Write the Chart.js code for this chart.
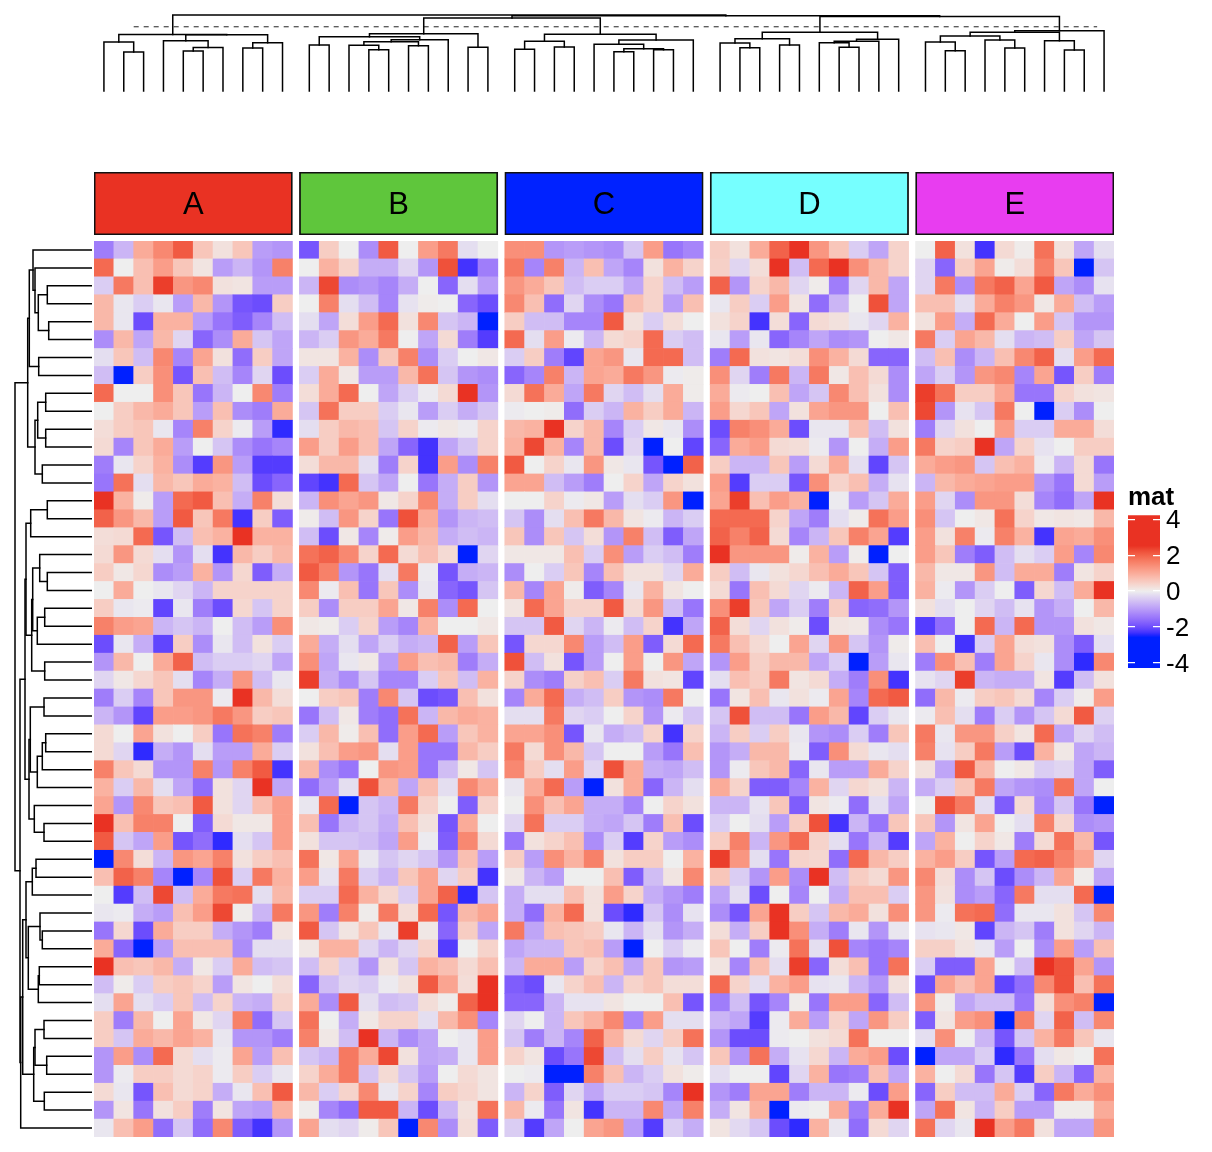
<!DOCTYPE html>
<html>
<head>
<meta charset="utf-8">
<title>mat heatmap</title>
<script src="https://cdn.jsdelivr.net/npm/chart.js@4/dist/chart.umd.min.js"></script>
<style>
  body { margin: 0; background: #fff; }
  canvas { position: absolute; }
</style>
</head>
<body>
<canvas id="topDendro"></canvas>
<canvas id="anno"></canvas>
<canvas id="leftDendro"></canvas>
<canvas id="heat"></canvas>
<canvas id="key"></canvas>
<script>
var blockNames = ['A', 'B', 'C', 'D', 'E'];
var blockColors = ['#e93223', '#5fc63c', '#0022ff', '#76ffff', '#e83df0'];

// values, one array per column slice, rows top to bottom
var blockA = [
[-1.4,-0.7,1,1.5,2.1,0.6,0.2,0.6,-1,-1.1],
[1.9,0,0.7,1.2,0.6,0.15,-1,-0.7,-1.1,1.6],
[-0.4,1.7,0.7,2.4,1.3,1.5,0.2,0.15,-1,-1],
[0.8,-0.1,-0.4,-0.1,-1,0.8,-1.1,-1.9,-2,0.5],
[0.8,-0.1,-2,0.9,0.9,-1,-1.5,-1.8,-1.3,-0.6],
[-1.2,0.8,-0.9,0.8,-0.3,-1.7,-1.2,1,-0.5,-0.9],
[-0.2,0.6,-0.6,1.5,-1.3,1.1,0.2,-1.6,0.5,-0.9],
[-0.6,-2.6,0.5,1.4,-1.9,0.7,-0.6,-1.3,-0.3,-2],
[1.9,0,0,1.4,0.6,-1.5,-0.7,0,1.5,-1.4],
[0,0.5,0.8,1,0.6,-1,0.7,-1.2,-1.4,1],
[0.25,0.5,0.6,-0.1,-1.3,1.6,0.4,-0.05,-1,-2.4],
[0.3,-1.3,0.6,1,-1,0,-0.5,-1.2,-1.5,-1.3],
[-1.4,-0.1,0.4,0.9,-1.2,-2.2,1.3,-1,-2.2,-2.2],
[-1.5,1.8,-0.2,0.8,0.6,1,0.9,-0.6,-2,-1.7],
[2.5,0.9,0.05,-1,1.9,2.1,0.7,-0.8,1.6,0.25],
[2,1.3,0.8,-1,2.1,0.6,1.7,-2.3,0.5,-1.8],
[0.25,0.3,1.9,-1.9,-0.6,0.7,0.9,2.5,0.9,0.9],
[0.3,1.3,0.3,-0.2,-1.1,-0.2,-2.3,0.8,0.5,0.8],
[0.5,0.1,0.35,-1.2,-1,0.9,-1.1,0.35,-1.8,-0.8],
[0,1,0,-0.1,-0.3,-0.7,0.4,0.4,0.4,0.4],
[0.5,-0.1,-0.05,-2.1,-0.1,-1.4,-2,0.35,-0.5,0.4],
[1.6,1.2,1.1,-0.7,-0.5,-0.7,0,-0.6,-1,1.4],
[-2,-0.1,-0.8,-2.1,0.5,-1.2,-0.1,-0.6,0.2,-0.4],
[-1.1,0.8,0,1,2,-0.6,-0.4,-0.4,-0.3,-0.9],
[-0.3,0.1,0.35,0.6,-0.2,-1.3,-0.8,1.3,-0.6,-0.1],
[-1.4,-0.4,-1.3,0.6,1.3,1.3,-0.05,2.5,0.8,0.25],
[-0.7,-1.1,-2.1,1.2,1.2,1.3,1.7,1.3,0.5,0.6],
[0.3,0,1.1,0.2,0,0.5,-1.5,1.8,1.6,-1.4],
[0.3,-0.3,-2.4,-0.8,-1.1,-0.2,-1,-1,1,-0.4],
[1.6,0.6,0.3,-1.1,-1.1,1.6,-1.1,1.6,2.1,-2.3],
[0.9,-0.4,0.8,-0.2,-0.9,-1.6,0.2,-0.3,2.5,-0.9],
[1.1,-1.1,1.5,0.6,0.7,2.1,0.2,-0.3,0.7,1.2],
[2.5,0.7,1.6,1.6,0,-1.8,0.3,0.1,0.1,1.2],
[2.1,-0.5,-0.9,1.2,-1.9,-1.6,-2.4,-0.2,-0.5,1.2],
[-2.7,1.5,0.25,-0.7,1.3,1.1,1.6,0.2,0.5,0.7],
[0.7,2,1.6,-1.3,-2.6,-1.3,2.2,-0.4,1.7,0.9],
[0,-2.2,-0.6,2.3,-0.6,1,1.7,1.8,-0.2,0.8],
[-0.1,-0.05,-0.8,-1,0.7,1.2,2.3,0.05,-0.7,1.7],
[-1.5,0.35,-2,1,0.5,0.5,-0.8,-1.1,-1.4,0.15],
[1,-1.7,-2.7,-1,0.7,0.7,0.7,-1.2,-0.2,-0.2],
[2.5,0.7,0.6,0.8,-0.8,0.1,-0.4,1,-0.6,-0.5],
[-0.6,0.05,-0.4,0.5,0.6,0.4,-1,0.15,0,0.25],
[-0.2,1.1,-0.2,-0.4,0.6,-0.6,0.4,-0.7,-0.8,0.4],
[0.5,-1.4,0.8,0,1.1,0.1,-0.3,1.6,-1.6,-0.5],
[0.5,-0.5,1,0.8,1.1,0.9,-0.1,-1.1,-1.1,-1.4],
[-1.1,1.2,-1.2,1.9,0.3,-0.2,-0.05,1.1,-1,0.7],
[-1.1,-0.05,0.5,0.5,0.3,0.4,-0.05,0.5,-0.4,-0.1],
[0.3,-0.1,-1.9,0.7,0.3,0.4,-0.8,-0.1,0.7,2.1],
[-1.1,0.15,-1.5,0.2,0.5,-1.4,0.15,-0.9,-1,0.9],
[-0.1,0.7,1.2,-1.6,-0.5,-1.6,1.5,-1.8,-2.3,-1.1]
];
var blockB = [
[-1.9,0.5,0,-1.2,2.1,0,1.2,1.7,-0.2,0],
[0,0.9,0.4,-0.8,-0.8,-0.3,-1.1,2.2,-2.3,-1.4],
[-0.7,2.3,-1.2,-1.1,-1.3,-0.8,0,-1.7,-0.2,-1],
[0,1.6,-0.2,-0.6,-1.3,-0.15,0.05,0,-1.7,-2],
[-0.2,-0.9,0.25,1.2,1.9,0.2,1.5,-0.5,-0.7,-2.6],
[-0.7,-0.4,1.3,1,1.7,0,-0.9,0.3,-1.4,-2.2],
[0.15,0.15,0.9,-1.2,0.6,1.6,-1.2,-0.4,0,0.1],
[-0.4,1,0.1,-1,-1,0.8,1.8,-0.5,-1.1,-1.2],
[0.25,1,1.9,0,-0.9,-0.4,-0.05,0.3,2.5,-1.1],
[-0.5,1.8,0.5,0.5,-0.4,-0.1,-1,-0.4,-0.8,-0.5],
[-0.2,0.5,0.8,0.7,-0.5,0.4,-0.05,0.1,-0.05,0.4],
[1.2,0.5,1.2,0.7,-0.9,-1.7,-2.3,-0.9,-0.5,0.4],
[0.25,0.8,0.8,-0.2,-1.4,0.4,-2.3,1.2,-1.2,1.6],
[-2.1,-2.3,1.9,-0.5,-0.9,0,-1.5,-0.8,0.5,-1.1],
[-0.7,1.4,1.1,1.3,0.1,0.4,1.5,-0.8,0.5,-0.2],
[0.05,-0.6,1.3,0.4,-1.5,2.2,1,-1.1,-0.7,-0.6],
[-0.6,-2,0.1,-1.3,0.05,1.2,0.8,-0.8,-0.6,-0.7],
[1.8,2,1.5,0.4,1.9,0.3,0.7,0.3,-2.7,-0.3],
[2.1,1.6,-1.1,-1.5,-0.2,1.7,-0.05,-1.9,-0.8,-0.7],
[1.5,-0.05,0.7,-1.5,0.6,-1.2,-0.1,-1.7,-1.9,-0.5],
[0.5,-1.2,0.5,0.5,1.1,0.1,1.6,-1.2,1.9,0],
[0.1,0.05,-0.4,0.4,-1,-1.3,0.9,0,0,0.1],
[1,-0.8,-0.2,-0.9,-0.4,-0.8,-0.7,2,-1,0.6],
[1.4,-0.9,-0.1,0.1,-1,1.2,0.7,0.8,-1.4,-0.8],
[2.4,-0.8,-1.2,-0.5,-1.3,-1.3,-0.4,0.6,-0.6,0.9],
[0,0.5,0.6,-1.4,1.5,-0.5,-2,-1.9,0.7,0.2],
[-1.5,-0.6,0.1,-1.4,-1.6,1.8,-0.7,0.8,1,0.9],
[-0.4,0.8,0.05,0.7,-1.6,1.2,1.9,-1,0.6,0.9],
[0.2,0.7,1.2,1.3,-0.2,1.2,-1.5,-1.5,0.8,0.5],
[0.8,-1.2,-1.5,0,1.3,1.2,-1.5,-0.6,0.1,-0.5],
[-1.6,-1,-0.2,2.2,0.9,-0.9,0.7,-0.2,1.5,1],
[-0.1,1.9,-2.7,-0.5,-0.7,1.7,0.4,0,-1.8,0.4],
[0.7,-1.5,-0.7,-0.5,-0.8,0.7,0.2,-1.9,1,0],
[0.2,-0.5,-0.5,-0.6,-0.9,1.2,-0.05,-1.8,1.5,0.3],
[1.8,0.1,1.1,-0.1,-0.5,-0.3,-0.5,-1.1,0.7,-1],
[1.2,-0.15,1.7,-0.4,-0.7,0.6,1.1,-0.3,0.5,-2.3],
[-0.4,-0.4,1.9,0.9,0.35,-0.4,1.1,2,-2.4,-0.5],
[1.3,-1.4,1.6,0.05,1.7,0.25,1.9,-1.9,0.8,1.1],
[2.1,-0.5,0.15,0.6,-0.1,2.4,0.1,-1.7,0.5,-0.9],
[0.1,0.9,0.9,-0.3,-0.7,-0.3,0.4,-2.2,0,0.4],
[-0.6,0.4,-0.4,-1.1,0.2,-0.5,0.9,0.7,0.3,0.7],
[-1.7,-0.6,-0.3,-0.4,-0.05,0.2,2.1,1.1,0.25,2.5],
[1,-1.2,2.1,-0.2,-0.6,-0.5,0.25,0.05,2,2.5],
[1.8,0,-0.8,0.1,0.4,0.4,-0.2,0.8,1.4,-1.3],
[1.6,0.1,-0.6,2.5,-0.7,-1.2,-0.9,0,-0.1,1.2],
[-0.5,-0.7,1.7,1,2.3,0.2,-0.9,-0.8,-0.1,1.2],
[0.4,1,1.7,-0.5,0.3,-0.5,-1,0,0.3,0.15],
[0.8,-0.4,0.4,1.5,-0.1,0.4,-1.3,0.5,0.35,0.15],
[0.05,-1.3,-1.6,2.1,2.1,-0.7,-2,-0.7,0.2,1.8],
[1.1,-0.2,-0.3,0.05,0.6,-2.5,1.5,-1.2,0.25,-1.8]
];
var blockC = [
[1.4,1.4,-1.1,-1,-1.1,-1.2,-0.5,1.2,-1.5,-1.3],
[1.7,-1.3,1.6,-0.7,0.7,-0.9,-1.3,0.2,0.9,0.4],
[1.3,1,0.6,-0.6,-0.4,-0.4,-0.9,0.4,-0.6,-1],
[1.5,0.7,-1.6,-0.3,-1.2,-1.5,0.7,0.4,-1,0.7],
[0.5,-0.6,-0.6,-1.3,-1.3,2.1,0.2,-0.4,0.25,0],
[1.9,-0.2,1.2,-0.05,-0.7,0.3,0.4,1.9,-0.4,-0.6],
[-0.4,0.5,-1.4,-2.1,1.1,1.3,-0.1,1.9,1.9,-0.6],
[-1.7,-1.3,1.6,-0.7,1.1,1,1.7,1.3,-0.05,0.05],
[0.3,1.8,1,-0.9,1.7,-0.3,-0.6,-0.2,1,0.05],
[-0.05,0,0.05,-1.6,-0.4,-0.7,0.9,0.5,1,-0.7],
[0.8,0.9,2.5,0.4,0.8,-1.3,-0.4,0.1,-0.1,-1.2],
[0.9,2.3,0.9,-1.3,0.8,-2,-0.3,-2.5,0,-2.1],
[2.1,0,0.4,-0.1,1.3,0.1,-0.1,-1.9,-2.6,2],
[1.1,1.1,-0.6,-1,-1.4,0,0.4,-0.9,0.4,0.2],
[0,0,0.4,-0.05,0.1,-1,-0.2,-0.4,1.3,-2.5],
[-0.5,-1.2,-0.2,0.7,1.7,0.8,0.15,-0.05,-0.7,-0.4],
[0.6,-1.2,0.6,-0.5,0.25,-1.1,1.6,-0.6,-1.8,-0.9],
[0.1,0.1,0.1,0.7,-0.4,1.4,-1,-0.4,-0.6,-1.4],
[-1.2,0,-0.4,0.6,-1.3,0.7,0.2,0.2,-0.3,1],
[0.8,-1.3,1.1,0.05,-1.8,-1.3,-0.1,0.9,0.15,0],
[0.15,1.9,1.1,0.4,0.4,2.1,0.3,1.3,-0.6,-1.5],
[-0.5,-0.5,2.1,-0.3,-0.7,-0.05,-0.6,0.4,-2.3,-0.9],
[-1.9,0.35,0.35,1.5,-1,-0.6,1.2,-1.8,0.3,1.9],
[2.2,-0.6,0.2,-1.9,-1,0,1.2,0,1.3,-0.9],
[0.4,-1.2,-1.4,0.45,0.7,-0.4,1.7,0.2,0.15,-2.1],
[-1.3,1,1.9,-0.8,-0.6,0.5,-1.1,-1.2,1.7,0],
[-0.2,-0.2,1.7,-0.3,-0.4,0,0.4,-1.1,-0.05,-0.5],
[1.1,1.1,1.4,-1.9,-0.1,-0.8,-0.6,0.4,-2.3,0.4],
[1.7,0.3,1.4,0.8,-0.5,0,0,-1,-1.5,0.7],
[1.5,0.5,-0.2,1.2,-0.3,2.2,1,-0.8,-0.9,-0.6],
[-0.1,1,1.9,-1,-2.5,0.2,1,-1.7,-0.7,-0.2],
[0,1.4,0.7,1.1,-0.8,-0.8,-1.3,0,0.4,0.2],
[-0.3,1.8,-0.4,-0.4,-0.8,-0.9,-0.5,-1.4,0.7,-2],
[-1.5,0.2,0.4,0.7,-1.2,-0.4,-2.2,0.4,-1,-1.2],
[0.5,-1,1.4,0.9,1.6,0.2,0.5,0.5,0,0.9],
[0.1,-0.7,-1,0,0,0.7,-1.8,-0.6,0.15,1.5],
[-0.8,-0.2,-0.2,0.7,0.2,1.2,0.4,-0.8,-1.1,-1.4],
[-0.8,-1.6,0.9,1.9,0.2,-2,-2.4,-0.5,-1.2,-0.15],
[1.7,-0.9,0.7,0.6,0.5,-0.1,-0.7,-0.2,-1.1,-0.8],
[-0.9,-0.7,-0.7,0.6,0.7,-1,-2.7,0,-0.4,-0.05],
[-0.7,1,1,-1,0.4,0.7,-0.9,0.6,-1.1,-1],
[-1.8,-2,-0.1,0.4,0.7,-0.7,0.4,0.6,0.25,0.25],
[-1.7,-1.7,-0.7,-0.15,-0.15,0.15,0,0,0.7,-1.9],
[-0.3,0,-0.7,0.6,0.9,1.5,-1.3,1.2,-0.2,-0.2],
[-0.5,-1.4,-0.7,-1.3,2,0.9,0.3,-0.3,0.5,1.8],
[0.4,0.15,-2,-1.5,2.3,-0.6,-0.2,0.5,-0.15,-0.5],
[0,-0.05,-2.7,-2.7,1.6,0.7,-0.7,-0.4,0.2,0.05],
[-0.7,0.4,-1.8,-0.3,-0.9,-0.4,-0.4,-0.5,-1.3,2.5],
[0.8,-0.05,-1.5,0.15,-2.3,-0.7,-0.7,1.5,-0.9,1.6],
[-0.4,-2.2,-0.9,0,1.1,1.3,-1,-2.2,-0.4,-0.8]
];
var blockD = [
[0.5,0.2,1,2,2.5,1.3,0.6,-0.4,-0.9,0.4],
[0.45,-0.3,0.25,2.5,-0.6,1.9,2.5,1.4,0.8,0.4],
[2,-1.1,0.4,0.8,-0.3,0.05,-1.4,-0.3,0.8,-0.9],
[-0.1,0.5,-0.4,1.2,0.15,-1.6,-0.7,0,2.2,-0.9],
[0.2,0.4,-2.3,0.25,-1.7,0.3,0.2,-0.1,-0.3,0.9],
[-0.1,-1,-0.1,-1.7,-1.3,-0.9,-1.2,-1.1,0,0.1],
[-1.4,1.9,0.2,0.15,0.25,1.4,0.9,0.3,-1.7,-1.7],
[1.4,-0.3,-1.4,1.7,-0.7,1.7,0.1,0.7,0.3,-1.2],
[1,-0.05,0,0.7,-0.9,-0.5,1.5,0.7,0.2,-1.2],
[1.2,0.35,0.6,-0.9,0.2,1.1,1.3,1.3,0,0.7],
[-2,1.6,1.4,1,-2,-0.1,-0.1,0.7,-0.6,0.2],
[-1.7,1,1.2,0.3,0.25,-0.05,-1.1,0,-0.8,1.2],
[0.5,-0.7,-0.7,0.6,-1,0.3,1,-0.2,-2.1,-0.5],
[1.2,-2.2,-0.4,-0.4,-1.9,1.4,0.4,0.7,-0.8,-0.15],
[1.1,2.4,0.7,1.2,0.9,-2.7,-0.05,-1,-0.5,1],
[1.9,1.9,1.9,0.4,-0.9,-1.4,-0.2,0.05,1.8,1.2],
[2,1.6,2,0.3,-1.3,-0.7,0.6,1.6,1.1,-2.2],
[2.5,1.3,1.3,1.3,0.05,0.9,-1,0.05,-2.7,0],
[0.5,-0.6,-0.1,0.2,0.35,0.7,1,0.6,-0.5,-1.8],
[0.3,-1.5,0.7,0.3,-0.3,-0.05,-0.7,2,1.2,-1.8],
[1.4,2.4,0.6,-0.9,-0.4,-1.4,0.5,-1.7,-1.6,-1.1],
[2,0.25,-0.3,0.2,0.05,-2,0.15,0.1,-1.2,-1.5],
[1.7,0.7,0.3,0,1.1,-0.3,1.3,-0.5,-1.1,0.05],
[-1.1,1.2,0.45,0.8,0.8,-0.9,-0.4,-2.7,-1,-0.1],
[-0.2,0.7,0.5,1.7,0.15,0.3,-0.8,-1.4,1.4,-2.3],
[-1.5,0.15,0.7,-0.1,0.2,-0.05,1.1,-1.3,1.9,2.1],
[-0.5,2.2,-0.6,-0.6,-1.5,1.2,0.8,-2.1,-0.4,-0.1],
[-0.7,0.5,-0.4,0.5,-0.1,-1.1,-1.2,-0.4,-1.4,0.6],
[-1.1,-0.8,0.8,0.8,-0.05,-1.8,1.4,0.3,-0.1,-0.2],
[-1.1,-0.05,0.6,0.8,-1.7,-0.1,-1,-1,1,0.4],
[1,0.4,-1.8,-1.8,-1.3,0.9,-0.3,0.35,0.2,-0.7],
[-0.7,-0.7,-0.15,0.6,-1.8,0.15,-0.05,-1.6,-0.2,-0.9],
[-0.4,0,-0.2,-1,0.5,2.2,-2.3,-0.7,-1.5,0.6],
[0.5,1.6,-0.7,1.3,1.9,0.4,-0.2,-1.5,-0.7,-2.2],
[2.4,1.3,-0.2,-1.5,0.4,0.35,-1.6,1.9,0.8,0.5],
[0.6,-0.4,-1.1,1.2,-1.2,2.5,-0.6,0.5,0.3,1.3],
[-0.9,-0.2,-2,0,-1.3,0,-0.8,0.7,0.7,-0.4],
[-1.2,-1.9,1.1,2.5,0.5,-0.5,0.8,1,0.2,1.4],
[0.25,-0.8,0.5,2.5,1.4,-0.8,-1.4,-0.1,-1.1,-0.1],
[0.6,0,-1.4,-0.05,1.8,-0.2,2.2,-1.3,-1.5,-1.3],
[0.15,-1.3,0.7,-0.2,2.4,-1.7,0.25,0.7,-1.5,1.8],
[1.9,0.4,-0.2,0.9,1.2,-0.15,-0.1,-0.7,-1.1,0.2],
[-1.4,-0.6,-1.9,-1.3,0.05,-1.5,1.2,1.2,-1.7,-0.6],
[-0.7,-0.9,-2.2,-0.05,1,-1,0.4,-0.9,1.3,0.5],
[-1.1,-2,-2,-0.05,0,0.2,0.3,1.8,0,0],
[0.6,-1.1,1.8,-0.8,-0.15,0.35,-0.7,1,1.2,-2],
[-0.2,0,0,-2.1,-0.3,0.9,-1.5,-1.4,0.7,-0.9],
[-1.1,-1.4,1.1,1.1,-1.4,-0.7,-0.7,-0.05,-2,1.2],
[-0.8,0.15,0.9,-2.5,-0.05,0,1,-1.4,1,2.5],
[0.15,-0.25,-0.5,-2,-2.4,0.9,-0.1,-1.6,0.3,-0.3]
];
var blockE = [
[0,2,0.2,-2.3,0.3,0.05,1.8,0.2,-0.9,-0.2],
[-0.3,-1.7,0.5,1.1,0.05,0.25,1.6,0.6,-2.5,-0.5],
[-0.3,1.7,-1.2,1.7,2,1.1,2.1,-0.9,-1.2,-0.15],
[0.7,0.7,-0.2,1,1.6,1.3,0.1,1,-0.6,-1],
[0.2,1.2,-0.8,1.9,1,0,1.2,-0.5,-1.1,-1.1],
[1.7,-0.4,1.1,0.8,-0.2,-0.7,-0.6,0.5,-0.9,-0.5],
[-0.6,0.7,-1.2,-0.7,0.7,1.5,2,-0.2,1.2,1.9],
[-0.9,-0.4,-1.1,1.3,1.5,-1.3,1.1,-1.9,0.5,-1.4],
[2.4,1.8,0.5,0.5,1.1,-1.5,-1.5,0.4,0.2,0.15],
[2.3,-1.1,-0.15,-0.5,1.7,0,-2.7,-0.4,-1.2,0],
[-1.4,-0.3,0.2,0,1.2,-0.4,-0.4,1,1,0.25],
[1.7,0.4,0.5,2.5,-0.9,0.4,-0.15,0,0.5,0.5],
[1,1.2,1.3,-0.5,0.7,0.9,-0.05,-0.7,0.3,-1.5],
[-0.7,0.8,1,1.1,1.2,1.2,-1.1,-1.5,0.3,-1],
[1.2,-0.3,-1.2,1.3,1.3,0.25,-1.3,-1.6,-0.9,2.5],
[1.4,-0.5,0,0.1,1.8,0.4,0.1,0.15,0.1,0.8],
[1.2,0.2,1.6,-0.05,1.6,0.9,-2.3,1.1,1,1.4],
[1.2,0.6,-1.4,-1.8,-0.6,-0.2,-0.4,1.2,-1.3,1.5],
[0.8,0.1,0.1,1.3,-0.6,1,1,-1.4,0.15,0.4],
[0.9,-0.05,-1.1,-0.4,0,-1.8,0.35,-0.6,1,2.5],
[0.2,-0.2,0,-0.3,-0.6,-0.15,-1.1,-0.8,0,0.8],
[-2.2,-1.6,0,1.9,-0.7,1.9,-1.1,-1.1,0.2,0.1],
[0.7,0,-2.3,-0.4,1.1,0.25,0.2,-1.2,-1.8,-0.2],
[-1.4,1.4,0.7,-1.4,1.1,0.4,-0.1,-1.2,-2.4,1.5],
[-0.15,-0.3,2.4,-0.7,-0.8,-0.8,0.15,-2.2,-0.6,0.2],
[-1.6,0.8,-0.05,0.5,0.6,0.3,-1.3,-0.4,0.05,1.2],
[-0.05,0.7,-0.2,-1.4,-0.4,-1.1,-0.5,0.3,2.1,-0.35],
[1.7,-0.1,1.3,1.3,0.45,0.15,1.9,-0.9,-0.3,-0.6],
[1.6,-0.15,0.5,1.7,-1,-2,0.9,0.1,-0.9,-0.7],
[0.2,-0.9,2.1,0.8,0,0.1,-0.4,-0.3,-0.9,-1.8],
[-0.8,-0.4,0.6,1.7,-0.9,-1.1,-1.2,1.8,-0.9,0],
[0,2.2,1.7,-0.2,-1.8,0.3,-1.3,-0.5,-1.5,-2.7],
[0.6,-1.1,0.15,1.1,0,-0.2,1.6,0.35,-1.2,-1.1],
[-0.9,0.9,0,0.4,0.1,-1.4,0.3,1.8,0.8,-1.9],
[0.9,1.2,0.5,-1.9,-1,1.9,2,1.6,1.1,-0.3],
[1.5,0.25,-1.2,-0.5,-2,-1.2,-0.7,1.1,0.05,-0.9],
[1.3,0.2,-1.2,-1,-1.7,1.7,-0.2,-0.2,1.9,-2.5],
[1.3,-0.05,1.8,1.9,-1.6,-0.1,-0.1,0.2,-0.5,1.5],
[-0.15,-0.1,0.1,-2.1,-0.7,-0.5,-1.4,0.2,-0.3,-0.7],
[0.45,0.45,0.15,-0.1,-1,0,-1.2,1.2,-1,0.7],
[-0.4,-1.8,-1.8,1.1,0,-0.6,2.5,2.2,1.1,-1.1],
[-2,1.1,0.7,1.1,-2.1,-1.6,1.5,2.2,0.7,1.8],
[1.3,0.05,-0.9,-0.6,-0.6,-1.5,0.25,1.4,1.6,-2.5],
[-1.8,0.15,1.2,1.4,-2.7,1.6,-0.3,2,-0.6,1.5],
[-0.2,1.4,0,-0.7,-1.9,-0.5,0.9,1.7,0.6,-0.1],
[-2.7,-0.9,-0.9,-0.4,-2.4,-1.5,-0.2,0.1,0,1.8],
[0.9,0,0.3,-1.5,-0.5,-2.2,0.5,-0.7,-1.7,0.9],
[-1.7,0.5,-0.6,-0.6,1,-0.4,-1.7,1.7,1,1.4],
[-0.9,1.8,0.15,-0.7,0.5,-1,-1,0.05,0.05,1],
[1.8,-0.3,-0.1,2.5,1.2,1.7,0.2,-0.9,-0.9,1.3]
];

// dendrograms in hclust form: negative = leaf, positive = earlier merge (1 based)
var colMerge = [[-2,-3],[-1,1],[-5,-6],[3,-7],[-4,4],[-8,-9],[6,-10],[5,7],[2,8],
  [-11,-12],[-14,-15],[-13,11],[-16,-17],[12,13],[14,-18],[10,15],[-19,-20],[16,17],
  [-21,-22],[-23,-24],[19,20],[-26,-27],[-28,-29],[22,23],[-25,24],[25,-30],[21,26],[18,27],
  [-32,-33],[-31,29],[-34,-35],[30,31],[-37,-38],[-36,33],[34,-39],[35,-40],[32,36],
  [-42,-43],[-41,38],[-45,-46],[-44,40],[39,41],[-48,-49],[-47,43],[42,44],[45,-50],
  [37,46],[28,47],[9,48]];
var colHeight = [39,49,40,43.5,50.3,43,48.3,56.3,56.5,
  46,41.3,45.7,45.3,49.3,51.3,54.3,43.7,57.3,
  41.7,44,49.7,39.3,41.3,42.3,46.7,51,56.7,73,
  43.3,48,46,52.3,43.7,48.3,49.7,51.7,58.7,
  40.3,49,43,51,55,41,50.3,58.7,60.3,
  74.5,75.3,76];
var colCut = 64.3;

var rowMerge = [[-3,-4],[-5,-6],[1,2],[-2,3],[-1,4],[-7,-8],[5,6],[-9,-10],[-11,-12],[8,9],
  [-13,-14],[10,11],[7,12],[-15,-16],[14,-17],[-19,-20],[-18,16],[-21,-22],[18,-23],[17,19],
  [-24,-25],[20,21],[15,22],[-26,-27],[-28,-29],[25,-30],[26,-31],[24,27],[-33,-34],[-32,29],
  [28,30],[23,31],[-35,-36],[33,-37],[-39,-40],[-38,35],[-41,-42],[37,-43],[36,38],[34,39],
  [-44,-45],[-46,-47],[41,42],[-48,-49],[43,44],[40,45],[46,-50],[32,47],[13,48]];
var rowHeight = [44.2,42.8,53.2,56.5,58.5,52.8,62.2,45.8,45.8,53.8,
  49.2,56.5,63.8,44.2,60.8,44.2,51.8,46.8,54.2,58.8,
  46.8,59.8,65.5,47.5,45.8,49.2,54.2,61.2,47.5,57.2,
  62.5,66.5,55.5,59.2,49.2,51.5,52.2,53.2,63.2,65.5,
  47.5,44.8,56.5,47.2,57.8,68.8,70.8,71.5,76.5];

var legendTitle = 'mat';
var legendTicks = [4, 2, 0, -2, -4];

var blocks = [blockA, blockB, blockC, blockD, blockE];
var nRows = 50, perBlock = 10, nCols = 50;
var gap = 0.35; // space between slices, in columns
var xMax = nCols + (blocks.length - 1) * gap;
var heatLeft = 94, heatTop = 241, heatW = 1020, heatH = 896;
var cellW = heatW / xMax;

function colX(col) {
    return col + 0.5 + Math.floor(col / perBlock) * gap;
}

// Color ramp interpolated in LAB, like colorRamp2
function toLab(rgb) {
    var c = rgb.map(function(v) {
        v /= 255;
        return v > 0.04045 ? Math.pow((v + 0.055) / 1.055, 2.4) : v / 12.92;
    });
    var x = (0.4124 * c[0] + 0.3576 * c[1] + 0.1805 * c[2]) / 0.95047;
    var y = 0.2126 * c[0] + 0.7152 * c[1] + 0.0722 * c[2];
    var z = (0.0193 * c[0] + 0.1192 * c[1] + 0.9505 * c[2]) / 1.08883;
    var f = function(t) { return t > 0.008856 ? Math.cbrt(t) : 7.787 * t + 16 / 116; };
    return [116 * f(y) - 16, 500 * (f(x) - f(y)), 200 * (f(y) - f(z))];
}
function fromLab(lab) {
    var fy = (lab[0] + 16) / 116, fx = fy + lab[1] / 500, fz = fy - lab[2] / 200;
    var g = function(t) { return t > 0.2069 ? t * t * t : (t - 16 / 116) / 7.787; };
    var x = g(fx) * 0.95047, y = g(fy), z = g(fz) * 1.08883;
    var rgb = [
        3.2406 * x - 1.5372 * y - 0.4986 * z,
        -0.9689 * x + 1.8758 * y + 0.0415 * z,
        0.0557 * x - 0.204 * y + 1.057 * z
    ];
    return rgb.map(function(v) {
        v = Math.max(0, Math.min(1, v));
        v = v > 0.0031308 ? 1.055 * Math.pow(v, 1 / 2.4) - 0.055 : 12.92 * v;
        return Math.round(v * 255);
    });
}
var labBlue = toLab([0, 32, 255]), labMid = toLab([238, 238, 238]), labRed = toLab([233, 50, 35]);
var colMax = 2.5;
function valueColor(v) {
    var t = Math.max(-1, Math.min(1, v / colMax));
    var end = t < 0 ? labBlue : labRed;
    var a = Math.abs(t);
    var lab = labMid.map(function(m, i) { return m + (end[i] - m) * a; });
    var rgb = fromLab(lab);
    return 'rgb(' + rgb[0] + ',' + rgb[1] + ',' + rgb[2] + ')';
}

function place(id, left, top, w, h) {
    var c = document.getElementById(id);
    c.width = w;
    c.height = h;
    c.style.left = left + 'px';
    c.style.top = top + 'px';
    return c.getContext('2d');
}

var baseOptions = {
    responsive: false,
    animation: false,
    events: [],
    layout: { padding: 0 },
    plugins: { legend: { display: false }, tooltip: { enabled: false }, title: { display: false } }
};
function options(scales, plugins) {
    return Object.assign({}, baseOptions, {
        scales: scales,
        plugins: Object.assign({}, baseOptions.plugins, plugins || {})
    });
}

// Turn merges into elbow lines; nodes sit midway between their children
function dendroLines(merge, height, leafPos) {
    var nodes = [], lines = [];
    function at(id) {
        return id < 0 ? [leafPos(-id - 1), 0] : nodes[id - 1];
    }
    merge.forEach(function(m, i) {
        var a = at(m[0]), b = at(m[1]), h = height[i];
        nodes.push([(a[0] + b[0]) / 2, h]);
        lines.push([a, [a[0], h], [b[0], h], b]);
    });
    return lines;
}
function lineSet(points, extra) {
    return Object.assign({
        data: points,
        showLine: true,
        borderColor: '#000',
        borderWidth: 1.5,
        borderCapStyle: 'square',
        borderJoinStyle: 'miter',
        pointRadius: 0,
        tension: 0,
        clip: false
    }, extra || {});
}

// heatmap body, floating bars on linear scales
var cells = [], cellColors = [];
blocks.forEach(function(block, b) {
    block.forEach(function(row, r) {
        row.forEach(function(v, c) {
            cells.push({ x: colX(b * perBlock + c), y: [r, r + 1] });
            cellColors.push(valueColor(v));
        });
    });
});
new Chart(place('heat', heatLeft, heatTop, heatW, heatH), {
    type: 'bar',
    data: { datasets: [{
        data: cells,
        backgroundColor: cellColors,
        borderWidth: 0,
        barThickness: cellW
    }] },
    options: options({
        x: { type: 'linear', min: 0, max: xMax, offset: false, display: false },
        y: { type: 'linear', min: 0, max: nRows, reverse: true, display: false }
    })
});

// slice annotation boxes
var blockLabels = {
    id: 'blockLabels',
    afterDatasetsDraw: function(chart) {
        var ctx = chart.ctx;
        ctx.save();
        ctx.font = '31px "Liberation Sans"';
        ctx.fillStyle = '#000';
        ctx.textAlign = 'center';
        ctx.textBaseline = 'middle';
        chart.getDatasetMeta(0).data.forEach(function(bar, i) {
            ctx.fillText(blockNames[i], bar.x, chart.chartArea.top + chart.chartArea.height / 2 + 1.5);
        });
        ctx.restore();
    }
};
new Chart(place('anno', heatLeft, 172, heatW, 63), {
    type: 'bar',
    data: { datasets: [{
        data: blockNames.map(function(n, i) {
            return { x: (colX(i * perBlock) + colX(i * perBlock + perBlock - 1)) / 2, y: [0, 1] };
        }),
        backgroundColor: blockColors,
        borderColor: '#111',
        borderWidth: 1.8,
        borderSkipped: false,
        barThickness: cellW * perBlock
    }] },
    options: options({
        x: { type: 'linear', min: 0, max: xMax, offset: false, display: false },
        y: { type: 'linear', min: 0, max: 1, display: false }
    }),
    plugins: [blockLabels]
});

// column dendrogram, one height unit is one pixel
var colSets = dendroLines(colMerge, colHeight, colX).map(function(pts) {
    return lineSet(pts.map(function(p) { return { x: p[0], y: p[1] }; }));
});
colSets.push(lineSet([{ x: 2, y: colCut }, { x: 50.55, y: colCut }], {
    borderColor: '#555',
    borderWidth: 1.3,
    borderDash: [5, 5],
    borderCapStyle: 'butt'
}));
new Chart(place('topDendro', heatLeft, 0, heatW, 92), {
    type: 'scatter',
    data: { datasets: colSets },
    options: options({
        x: { type: 'linear', min: 0, max: xMax, display: false },
        y: { type: 'linear', min: -1, max: 91, display: false }
    })
});

// row dendrogram
var rowSets = dendroLines(rowMerge, rowHeight, function(r) { return r + 0.5; }).map(function(pts) {
    return lineSet(pts.map(function(p) { return { x: p[1], y: p[0] }; }));
});
new Chart(place('leftDendro', 0, heatTop, 92, heatH), {
    type: 'scatter',
    data: { datasets: rowSets },
    options: options({
        x: { type: 'linear', min: -0.5, max: 91.5, reverse: true, display: false },
        y: { type: 'linear', min: 0, max: nRows, reverse: true, display: false }
    })
});

// colour key
var keyMin = -4.28, keyMax = 4.22;
function keyGradient(context) {
    var chart = context.chart, area = chart.chartArea;
    if (!area) return '#eee';
    var g = chart.ctx.createLinearGradient(0, area.top, 0, area.bottom);
    for (var i = 0; i <= 60; i++) {
        g.addColorStop(i / 60, valueColor(keyMax + (keyMin - keyMax) * i / 60));
    }
    return g;
}
new Chart(place('key', 1128, 481, 82, 220), {
    type: 'bar',
    data: {
        labels: [legendTitle],
        datasets: [{
            data: [[keyMin, keyMax]],
            backgroundColor: keyGradient,
            borderWidth: 0,
            barPercentage: 1,
            categoryPercentage: 1
        }]
    },
    options: Object.assign(options({
        x: { display: false },
        y: {
            position: 'right',
            min: keyMin,
            max: keyMax,
            border: { display: false, dash: [7, 18, 7] },
            grid: { color: '#fff', drawTicks: false, lineWidth: 1.2, z: 1 },
            ticks: {
                padding: 6,
                color: '#000',
                autoSkip: false,
                labelOffset: 2,
                font: { family: '"Liberation Sans"', size: 26 }
            },
            afterBuildTicks: function(axis) {
                axis.ticks = legendTicks.map(function(v) { return { value: v }; });
            },
            afterFit: function(axis) {
                axis.width = 50;
                axis.paddingTop = 0;
                axis.paddingBottom = 0;
            }
        }
    }, {
        title: {
            display: true,
            text: legendTitle,
            align: 'start',
            color: '#000',
            font: { family: '"Liberation Sans"', size: 26, weight: 'bold' },
            padding: { top: 1, bottom: 2 }
        }
    }), { layout: { padding: { bottom: 33 } } })
});
</script>
</body>
</html>
